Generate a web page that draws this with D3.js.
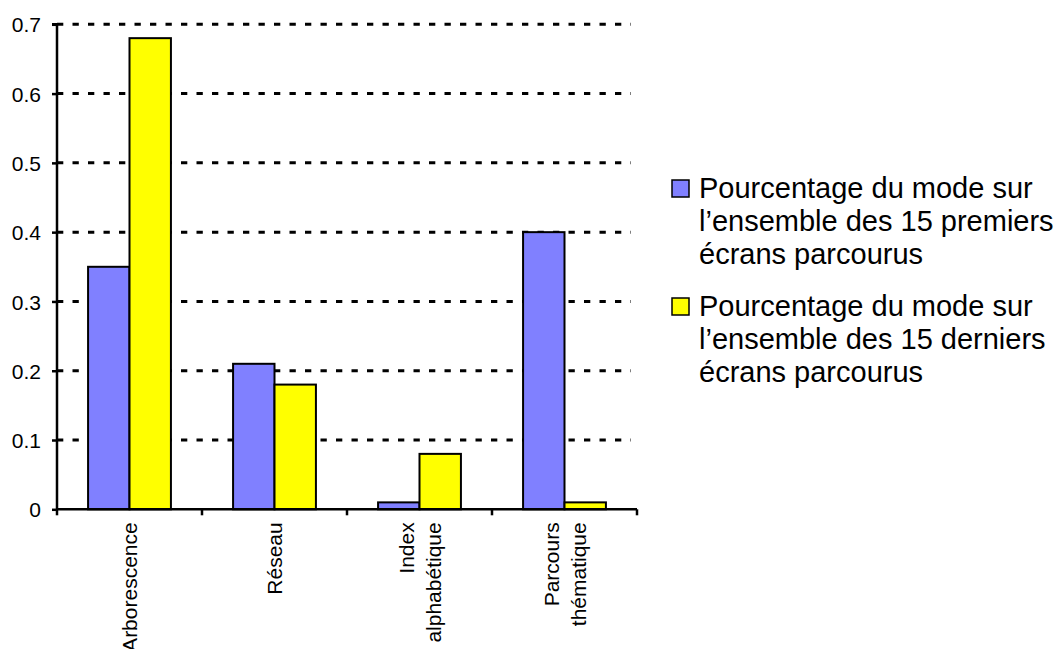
<!DOCTYPE html>
<html>
<head>
<meta charset="utf-8">
<script src="https://cdn.jsdelivr.net/npm/d3@7"></script>
<style>
  html, body { margin: 0; padding: 0; background: #fff; }
  svg { display: block; font-family: "Liberation Sans", Arial, sans-serif; }
</style>
</head>
<body>
<svg id="chart" width="1054" height="649"></svg>
<script>
// ---- Data ----
const categories = [["Arborescence"], ["Réseau"], ["Index", "alphabétique"], ["Parcours", "thématique"]];
const seriesNames = [
  ["Pourcentage du mode sur", "l’ensemble des 15 premiers", "écrans parcourus"],
  ["Pourcentage du mode sur", "l’ensemble des 15 derniers", "écrans parcourus"]
];
const firstScreens = [0.35, 0.21, 0.01, 0.40];
const lastScreens  = [0.68, 0.18, 0.08, 0.01];
const yTicks = [0, 0.1, 0.2, 0.3, 0.4, 0.5, 0.6, 0.7];
const colors = ["#8080FF", "#FFFF00"];

(function () {
// ---- Layout ----
const svg = d3.select("#chart");
const pLeft = 57, pRight = 637, pTop = 24.3, pBottom = 509.3;

const catKeys = categories.map(c => c.join(" "));
const x0 = d3.scaleBand().domain(catKeys).range([pLeft, pRight]).paddingInner(0).paddingOuter(0);
const x1 = d3.scaleBand().domain([0, 1]).range([0, x0.bandwidth()]).paddingInner(0).paddingOuter(0.75);
const y = d3.scaleLinear().domain([0, 0.7]).range([pBottom, pTop]);

// gridlines (dashed)
svg.append("g").selectAll("line").data(yTicks.filter(d => d > 0)).join("line")
  .attr("x1", pLeft).attr("x2", 631)
  .attr("y1", d => y(d)).attr("y2", d => y(d))
  .attr("stroke", "#000").attr("stroke-width", 3)
  .attr("stroke-dasharray", "6.3,9.2");

// bars
const values = [firstScreens, lastScreens];
const rows = [];
catKeys.forEach((k, i) => values.forEach((vals, s) => rows.push({ k, s, v: vals[i] })));
svg.append("g").selectAll("rect").data(rows).join("rect")
  .attr("x", d => x0(d.k) + x1(d.s))
  .attr("width", x1.bandwidth())
  .attr("y", d => y(d.v))
  .attr("height", d => y(0) - y(d.v))
  .attr("fill", d => colors[d.s])
  .attr("stroke", "#000").attr("stroke-width", 2);

// y axis
const yAxis = d3.axisLeft(y).tickValues(yTicks).tickSize(5).tickPadding(11)
  .tickFormat(d => d === 0 ? "0" : d3.format(".1f")(d));
const gy = svg.append("g").attr("transform", `translate(${pLeft},0)`).call(yAxis);
gy.select(".domain").attr("stroke", "#000").attr("stroke-width", 2.5).attr("d", `M-5,${pTop}H0V${pBottom}`);
gy.selectAll(".tick line").attr("stroke", "#000").attr("stroke-width", 2.5);
gy.selectAll(".tick text").attr("font-size", 21).attr("fill", "#000")
  .attr("font-family", "Liberation Sans, Arial, sans-serif").attr("dy", "0.36em");

// x axis
const xBoundaries = catKeys.map(k => x0(k)).concat([pRight]);
const gx = svg.append("g");
gx.append("line").attr("x1", pLeft).attr("x2", pRight).attr("y1", pBottom).attr("y2", pBottom)
  .attr("stroke", "#000").attr("stroke-width", 2.5);
gx.selectAll("line.tk").data(xBoundaries).join("line").attr("class", "tk")
  .attr("x1", d => d).attr("x2", d => d).attr("y1", pBottom).attr("y2", pBottom + 6)
  .attr("stroke", "#000").attr("stroke-width", 2.5);

// x labels (rotated)
const lineGap = 27;
categories.forEach((lines, i) => {
  const cx = x0(catKeys[i]) + x0.bandwidth() / 2;
  const t = svg.append("text")
    .attr("transform", `translate(${cx},${pBottom + 13}) rotate(-90)`)
    .attr("text-anchor", "end").attr("font-size", 21).attr("fill", "#000");
  const n = lines.length;
  lines.forEach((ln, j) => {
    t.append("tspan").attr("x", 0)
      .attr("y", (j - (n - 1) / 2) * lineGap + 7.5)
      .text(ln);
  });
});

// legend
const legY = [180, 298];
const legend = svg.append("g");
seriesNames.forEach((lines, s) => {
  legend.append("rect").attr("x", 672).attr("y", legY[s]).attr("width", 17).attr("height", 17)
    .attr("fill", colors[s]).attr("stroke", "#000").attr("stroke-width", 1.5);
  const t = legend.append("text").attr("font-size", 29).attr("fill", "#000");
  lines.forEach((ln, j) => {
    t.append("tspan").attr("x", 699).attr("y", legY[s] + 18 + j * 33).text(ln);
  });
});
})();
</script>
</body>
</html>
